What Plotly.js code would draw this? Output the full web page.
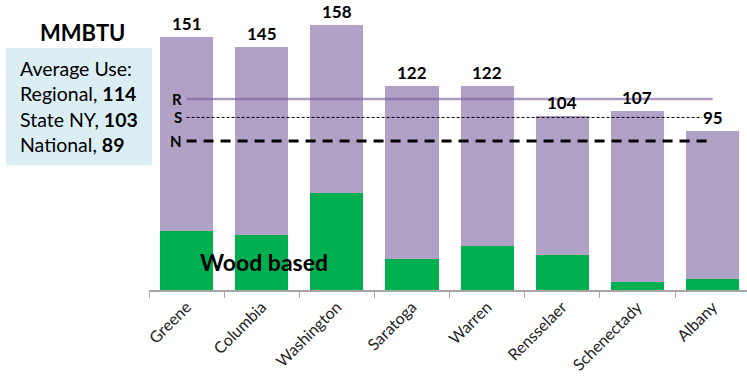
<!DOCTYPE html>
<html>
<head>
<meta charset="utf-8">
<script src="https://cdn.plot.ly/plotly-3.0.1.min.js"></script>
<style>
  html, body { margin: 0; padding: 0; background: #fff; }
  #chart { width: 747px; height: 381px; }
</style>
</head>
<body>
<div id="chart"></div>
<script>
// Household energy use per county, MMBTU
const counties = ['Greene', 'Columbia', 'Washington', 'Saratoga', 'Warren', 'Rensselaer', 'Schenectady', 'Albany'];
const totalUse = [151, 145, 158, 122, 122, 104, 107, 95];
const woodUse  = [35, 33, 58, 18.5, 26, 21, 5, 6.5];

// Reference averages
const avgLabels = ['Regional', 'State NY', 'National'];
const avgLetters = ['R', 'S', 'N'];
const avgValues = [114, 103, 89];

const otherUse = totalUse.map((t, i) => t - woodUse[i]);

const PURPLE = '#B2A1C7';
const GREEN = '#00B050';
const FONT = 'Lato, "Open Sans", sans-serif';

// layout geometry in pixels
const W = 747, H = 381;
const M = { l: 149, r: 0, t: 5, b: 91 };
const pw = W - M.l - M.r, ph = H - M.t - M.b;
const px = x => (x - M.l) / pw;
const py = y => (H - M.b - y) / ph;

const traces = [
  {
    type: 'bar', x: counties, y: woodUse, name: 'Wood based',
    marker: { color: GREEN }, hoverinfo: 'skip', showlegend: false
  },
  {
    type: 'bar', x: counties, y: otherUse, name: 'Other',
    marker: { color: PURPLE }, hoverinfo: 'skip', showlegend: false
  }
];

const annotations = [];

// totals above each bar
counties.forEach((c, i) => {
  annotations.push({
    x: c, y: totalUse[i], xref: 'x', yref: 'y',
    text: '<b>' + totalUse[i] + '</b>', showarrow: false,
    yanchor: 'bottom', yshift: 1,
    font: { family: FONT, size: 17, color: '#000' }
  });
});

// letters at the start of each average line
const lineStyles = [
  { color: 'rgba(128,100,162,0.65)', width: 2.5, dash: 'solid', end: counties.length - 1 },
  { color: '#000', width: 1, dash: '3px,2px', end: counties.length - 1.14 },
  { color: '#000', width: 3, dash: '10px,7px', end: counties.length - 1 }
];
const shapes = [];
avgValues.forEach((v, i) => {
  annotations.push({
    x: counties[0], y: v, xref: 'x', yref: 'y',
    text: '<b>' + avgLetters[i] + '</b>', showarrow: false,
    xanchor: 'right', xshift: -3, yanchor: 'middle',
    font: { family: FONT, size: 15, color: '#000' }
  });
  const s = lineStyles[i];
  shapes.push({
    type: 'line', xref: 'x', yref: 'y',
    x0: 0, x1: s.end, y0: v, y1: v,
    line: { color: s.color, width: s.width, dash: s.dash },
    layer: 'above'
  });
});

// info box on the left
shapes.push({
  type: 'rect', xref: 'paper', yref: 'paper',
  x0: px(6), x1: px(152), y0: py(165), y1: py(48),
  fillcolor: '#DBEEF4', line: { width: 0 }, layer: 'below'
});

let boxText = 'Average Use:';
avgLabels.forEach((l, i) => { boxText += '<br>' + l + ', <b>' + avgValues[i] + '</b>'; });
annotations.push({
  xref: 'paper', yref: 'paper', x: px(18), y: py(106),
  xanchor: 'left', yanchor: 'middle', align: 'left',
  text: boxText, showarrow: false,
  font: { family: FONT, size: 19.5, color: '#000' }
});

annotations.push({
  xref: 'paper', yref: 'paper', x: px(82), y: py(33),
  xanchor: 'center', yanchor: 'middle',
  text: '<b>MMBTU</b>', showarrow: false,
  font: { family: FONT, size: 22, color: '#000' }
});

annotations.push({
  x: counties[1], y: 17, xref: 'x', yref: 'y',
  xshift: 2, text: '<b>Wood based</b>', showarrow: false,
  font: { family: FONT, size: 23, color: '#000' }
});

const layout = {
  width: W, height: H,
  margin: M,
  paper_bgcolor: '#fff', plot_bgcolor: '#fff',
  barmode: 'stack', bargap: 0.294,
  xaxis: {
    type: 'category', range: [-0.5, 7.458],
    showline: true, linecolor: '#A6A6A6', linewidth: 1.5,
    ticks: 'outside', ticklen: 6, tickcolor: '#A6A6A6', tickwidth: 1,
    tickson: 'boundaries', tickangle: -45,
    tickfont: { family: FONT, size: 16, color: '#222' },
    showgrid: false, zeroline: false, fixedrange: true
  },
  yaxis: {
    range: [0, 170.1], visible: false, showgrid: false, zeroline: false, fixedrange: true
  },
  annotations: annotations,
  shapes: shapes
};

Plotly.newPlot('chart', traces, layout, { staticPlot: true, displayModeBar: false });
</script>
</body>
</html>
